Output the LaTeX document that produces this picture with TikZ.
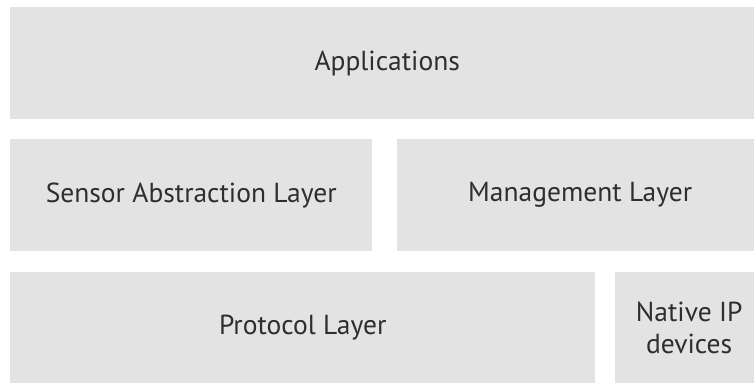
\documentclass[tikz,border=0pt]{standalone}
\usepackage{fontspec}
\setmainfont{PT Sans}
\definecolor{layerfill}{HTML}{E3E3E3}
\definecolor{layertext}{HTML}{2E2E2E}
\begin{document}
\begin{tikzpicture}[x=1pt,y=-1pt,
  layer/.style={fill=layerfill, draw=none, text=layertext, inner sep=0pt,
    font=\fontsize{27.5}{32}\selectfont, align=center}]
\useasboundingbox (0,0) rectangle (754,383);
\clip (0,0) rectangle (754,383);
\fill[white] (0,0) rectangle (754,383);
% top row
\node[layer, minimum width=754pt, minimum height=112pt, anchor=north west] (apps) at (10,7) {Applications};
% middle row
\node[layer, minimum width=362pt, minimum height=112pt, anchor=north west] (sal) at (10,139) {Sensor Abstraction Layer};
\node[layer, minimum width=366pt, minimum height=112pt, anchor=north west] (mgmt) at (397,139) {Management Layer};
% bottom row
\node[layer, minimum width=585pt, minimum height=111pt, anchor=north west] (proto) at (10,272) {Protocol Layer};
\node[layer, minimum width=148pt, minimum height=111pt, anchor=north west] (native) at (615,272) {Native IP\\devices};
\end{tikzpicture}
\end{document}
